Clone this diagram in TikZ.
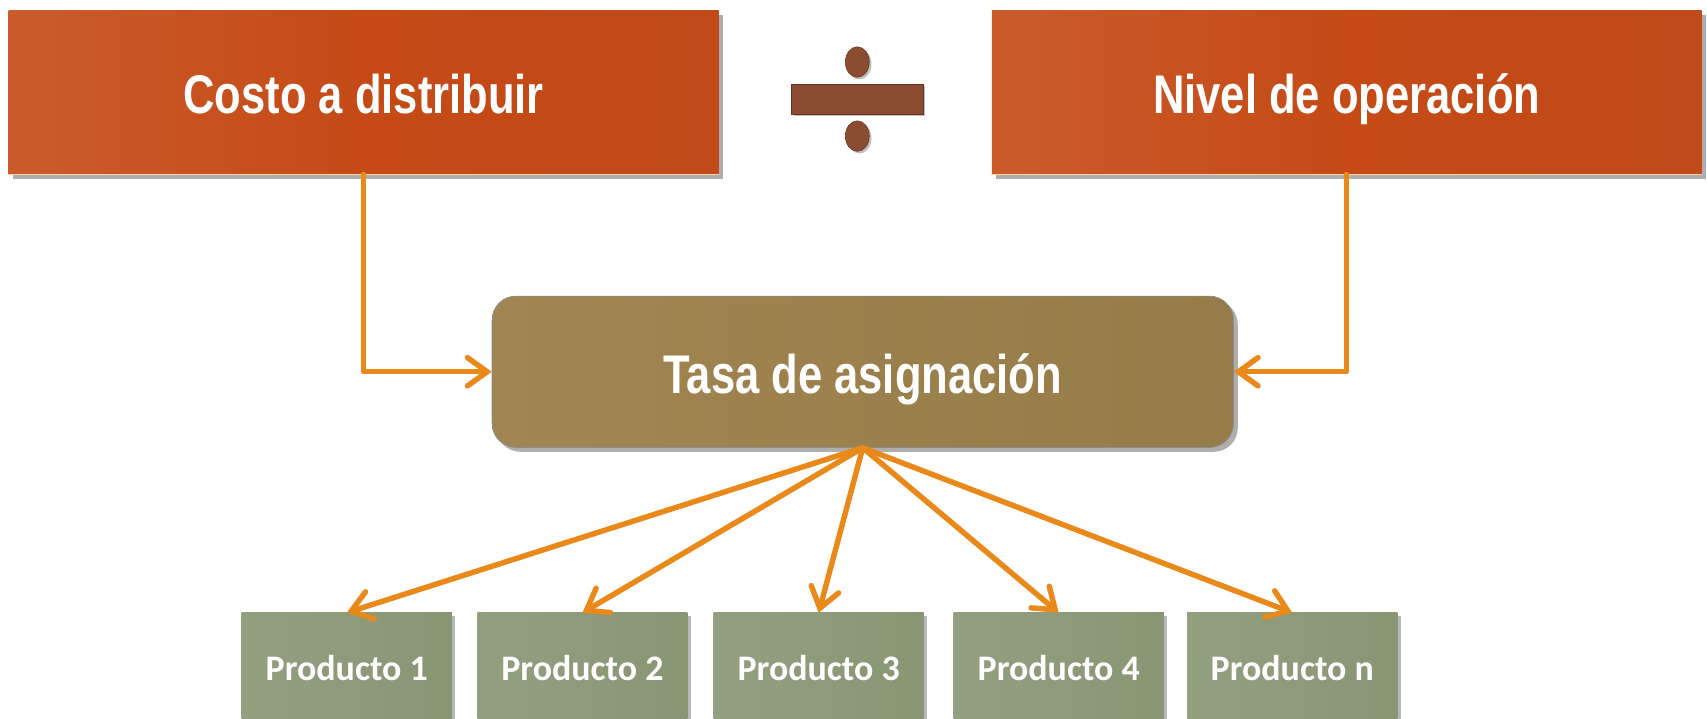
\documentclass[tikz,border=0pt]{standalone}
\usepackage{fontspec}
\setmainfont{Liberation Sans}
\newfontfamily\narrowfont[FakeStretch=0.8]{Liberation Sans}
\newfontfamily\calfont{Carlito}
\usetikzlibrary{arrows.meta,shapes.geometric,shadows}
\definecolor{orA}{RGB}{202,92,44}
\definecolor{orB}{RGB}{197,74,22}
\definecolor{orC}{RGB}{192,74,25}
\definecolor{brA}{RGB}{161,133,82}
\definecolor{brB}{RGB}{150,124,72}
\definecolor{grA}{RGB}{146,160,128}
\definecolor{grB}{RGB}{136,150,116}
\definecolor{divcol}{RGB}{139,76,50}
\definecolor{conncol}{RGB}{232,137,26}
\tikzset{
  topbox/.style={rectangle, inner sep=0pt, minimum width=652pt, minimum height=150pt,
    left color=orA, right color=orC, middle color=orB, text=white,
    text height=38pt, text depth=0pt,
    drop shadow={shadow xshift=4pt, shadow yshift=-4pt, opacity=.45, fill=black!70},
    font=\narrowfont\bfseries\fontsize{50}{60}\selectfont},
  ratebox/.style={rectangle, rounded corners=22pt, inner sep=0pt, minimum width=681pt, minimum height=139pt,
    left color=brA, right color=brB, draw=black!45, line width=0.6pt, text=white,
    text height=39pt, text depth=0pt,
    drop shadow={shadow xshift=4pt, shadow yshift=-4pt, opacity=.45, fill=black!70},
    font=\narrowfont\bfseries\fontsize{50}{60}\selectfont},
  prodbox/.style={rectangle, inner sep=0pt, minimum width=193pt, minimum height=104pt,
    left color=grA, right color=grB, text=white,
    text height=21pt, text depth=0pt,
    drop shadow={shadow xshift=3pt, shadow yshift=-3pt, opacity=.4, fill=black!70},
    font=\calfont\bfseries\fontsize{33}{40}\selectfont},
  divpart/.style={fill=divcol, draw=divcol!70!black, line width=0.5pt,
    drop shadow={shadow xshift=2pt, shadow yshift=-2pt, opacity=.35, fill=black!70}},
  conn/.style={draw=conncol, line width=5pt, line cap=round, line join=round,
    -{Straight Barb[length=18pt,width=26pt,line cap=round]}},
}
\begin{document}
\begin{tikzpicture}[x=1pt,y=-1pt]
\useasboundingbox (0,0) rectangle (1568,660);
\fill[white] (0,0) rectangle (1568,660);
\clip (0,0) rectangle (1568,660);

\node[topbox] (c1) at (334,85) {Costo a distribuir};
\node[topbox] (c2) at (1237,85) {Nivel de operación};
\draw[orange!35!white, line width=1.5pt] (c1.south west) -- (c1.south east);
\draw[orange!35!white, line width=1.5pt] (c2.south west) -- (c2.south east);

\node[divpart, rectangle, inner sep=0pt, minimum width=121pt, minimum height=28pt] (bar) at (787.5,91) {};
\node[divpart, ellipse, inner sep=0pt, minimum width=22pt, minimum height=28pt] (dot1) at (787.5,57) {};
\node[divpart, ellipse, inner sep=0pt, minimum width=22pt, minimum height=28pt] (dot2) at (787.5,125) {};

\node[ratebox] (tasa) at (792.5,341.5) {Tasa de asignación};

\node[prodbox] (p1) at (318.5,615) {Producto 1};
\node[prodbox] (p2) at (535,615) {Producto 2};
\node[prodbox] (p3) at (752,615) {Producto 3};
\node[prodbox] (p4) at (972.5,615) {Producto 4};
\node[prodbox] (pn) at (1187,615) {Producto n};

\draw[conn] (c1.south) |- (tasa.west);
\draw[conn] (c2.south) |- (tasa.east);

\draw[conn] (tasa.south) -- (p1.north);
\draw[conn] (tasa.south) -- (p2.north);
\draw[conn] (tasa.south) -- (p3.north);
\draw[conn] (tasa.south) -- (p4.north);
\draw[conn] (tasa.south) -- (pn.north);
\end{tikzpicture}
\end{document}
